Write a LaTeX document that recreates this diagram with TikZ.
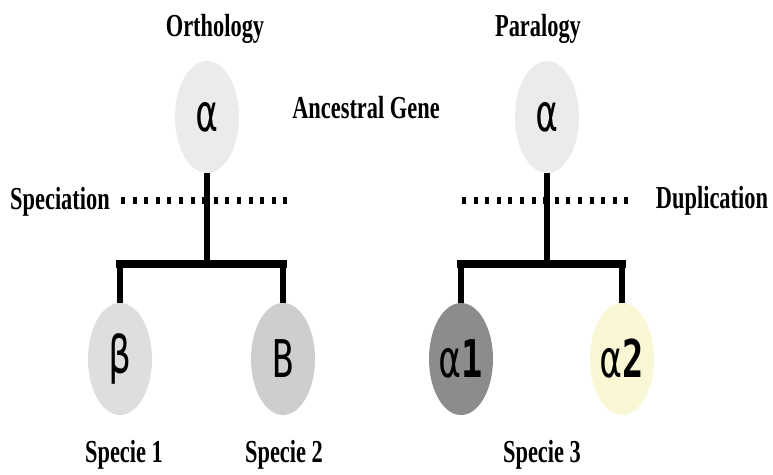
\documentclass[tikz,border=0pt]{standalone}
\usepackage{fontspec}
\usetikzlibrary{shapes.geometric}
\newfontfamily\lblfont[FakeStretch=0.70]{Liberation Serif}
\newfontfamily\glyfont[FakeStretch=0.68]{DejaVu Sans Mono}
\definecolor{topgray}{RGB}{235,235,235}
\definecolor{betagray}{RGB}{222,222,222}
\definecolor{bgray}{RGB}{206,206,206}
\definecolor{darkg}{RGB}{140,140,140}
\definecolor{paleyel}{RGB}{250,247,212}
\tikzset{
  gene/.style={ellipse, inner sep=0pt, minimum width=64pt, minimum height=112pt,
    font=\glyfont\fontsize{52}{52}\selectfont, text=black},
  lbl/.style={anchor=base, inner sep=0pt, font=\lblfont\bfseries\fontsize{32}{32}\selectfont},
  trunk/.style={line width=6pt},
  barline/.style={line width=8pt, line cap=rect},
  drop/.style={line width=5.5pt},
  dots/.style={line width=7pt, dash pattern=on 4pt off 7.6pt}
}
\begin{document}
\begin{tikzpicture}[x=1pt, y=-1pt]
\useasboundingbox (0,0) rectangle (773,474);
% left tree
\node[gene, fill=topgray] (anc1) at (207,117) {α};
\node[gene, fill=betagray] (beta) at (120,359) {β};
\node[gene, fill=bgray] (bb) at (283,359) {B};
\coordinate (j1) at (207,264);
\coordinate (bl1) at (120,264);
\coordinate (br1) at (283,264);
\coordinate (dl1) at (121,200);
\coordinate (dr1) at (294,200);
\draw[dots] (dl1) -- (dr1);
\draw[trunk] (anc1) -- (j1);
\draw[barline] (bl1) -- (br1);
\draw[drop] (bl1) -- (beta);
\draw[drop] (br1) -- (bb);
% right tree
\node[gene, fill=topgray] (anc2) at (547,117) {α};
\node[gene, fill=darkg] (a1) at (461,359) {α{\bfseries 1}};
\node[gene, fill=paleyel] (a2) at (622,359) {α{\bfseries 2}};
\coordinate (j2) at (547,264);
\coordinate (bl2) at (461,264);
\coordinate (br2) at (622,264);
\coordinate (dl2) at (462,200);
\coordinate (dr2) at (635,200);
\draw[dots] (dl2) -- (dr2);
\draw[trunk] (anc2) -- (j2);
\draw[barline] (bl2) -- (br2);
\draw[drop] (bl2) -- (a1);
\draw[drop] (br2) -- (a2);
% labels
\node[lbl] (orth) at (215,36) {Orthology};
\node[lbl] (para) at (538,36) {Paralogy};
\node[lbl] (spec) at (60,209) {Speciation};
\node[lbl] (dup) at (712,208) {Duplication};
\node[lbl] (ancg) at (366,118) {Ancestral Gene};
\node[lbl] (s1) at (124,462) {Specie 1};
\node[lbl] (s2) at (284,462) {Specie 2};
\node[lbl] (s3) at (542,462) {Specie 3};
\end{tikzpicture}
\end{document}
